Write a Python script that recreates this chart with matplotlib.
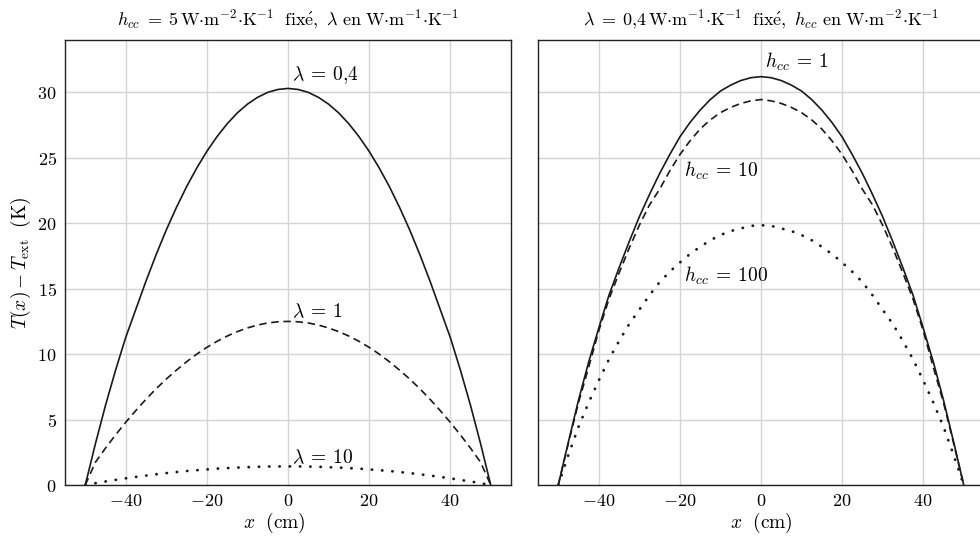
import numpy as np
import matplotlib
matplotlib.use("Agg")
import matplotlib.pyplot as plt

plt.rcParams['mathtext.fontset'] = 'cm'
plt.rcParams['font.family'] = ['cmr10', 'DejaVu Serif']
plt.rcParams['axes.formatter.use_mathtext'] = True

# demi-profils (x >= 0), les courbes sont symetriques
x_half = [0, 2.5, 5, 7.5, 10, 12.5, 15, 17.5, 20, 22.5, 25, 27.5, 30, 32.5, 35,
          37.5, 40, 42.5, 45, 47.5, 50]

# gauche : h_cc = 5, lambda variable
T_lam04 = [30.3, 30.22, 30.0, 29.62, 29.1, 28.43, 27.6, 26.62, 25.5, 24.22, 22.8,
           21.22, 19.5, 17.62, 15.6, 13.45, 11.3, 8.8, 6.1, 3.15, 0]
T_lam1 = [12.5, 12.47, 12.38, 12.22, 12.0, 11.72, 11.38, 10.98, 10.52, 10.0, 9.42,
          8.78, 8.1, 7.36, 6.56, 5.7, 4.8, 3.84, 2.82, 1.74, 0]
T_lam10 = [1.42, 1.42, 1.41, 1.39, 1.36, 1.33, 1.29, 1.25, 1.19, 1.13, 1.07,
           0.99, 0.91, 0.82, 0.72, 0.62, 0.51, 0.39, 0.27, 0.14, 0]

# droite : lambda = 0,4, h_cc variable
T_h1 = [31.2, 31.12, 30.9, 30.55, 30.1, 29.45, 28.65, 27.7, 26.6, 25.25, 23.8,
        22.2, 20.5, 18.6, 16.6, 14.5, 12.0, 9.4, 6.5, 3.3, 0]
T_h10 = [29.45, 29.35, 29.15, 28.85, 28.45, 27.9, 27.2, 26.3, 25.25, 24.0, 22.6,
         21.4, 19.85, 18.1, 16.2, 14.2, 11.8, 9.0, 6.3, 3.2, 0]
T_h100 = [19.85, 19.8, 19.6, 19.4, 19.1, 18.7, 18.2, 17.65, 17.0, 16.3, 15.5,
          14.5, 13.4, 12.3, 11.0, 9.6, 8.0, 6.3, 4.45, 2.3, 0]


def full(v):
    v = np.asarray(v, dtype=float)
    return np.concatenate([v[::-1], v[1:]])


xs = np.concatenate([-np.asarray(x_half[::-1], float), np.asarray(x_half[1:], float)])

fig = plt.figure(figsize=(9.8, 5.36), dpi=100)
ax1 = fig.add_axes([65/980, 51/536, 446/980, 445/536])
ax2 = fig.add_axes([538/980, 51/536, 446/980, 445/536], sharey=ax1)

col = '#1a1a1a'
solid = dict(color=col, lw=1.2)
dash = dict(color=col, lw=1.2, ls=(0, (4.5, 2.8)))
dots = dict(color=col, lw=2.0, ls=(0, (0.1, 3.6)), dash_capstyle='round')

ax1.plot(xs, full(T_lam04), **solid)
ax1.plot(xs, full(T_lam1), **dash)
ax1.plot(xs, full(T_lam10), **dots)
ax2.plot(xs, full(T_h1), **solid)
ax2.plot(xs, full(T_h10), **dash)
ax2.plot(xs, full(T_h100), **dots)

fs = 14
ax1.text(1, 31.3, r'$\lambda\:=\:0{,}4$', fontsize=fs, va='center')
ax1.text(1, 13.2, r'$\lambda\:=\:1$', fontsize=fs, va='center')
ax1.text(1, 2.1, r'$\lambda\:=\:10$', fontsize=fs, va='center')
ax2.text(1, 32.3, r'$h_{cc}\:=\:1$', fontsize=fs, va='center')
ax2.text(-19, 24.0, r'$h_{cc}\:=\:10$', fontsize=fs, va='center')
ax2.text(-19, 16.0, r'$h_{cc}\:=\:100$', fontsize=fs, va='center')

ax1.set_title(r'$h_{cc}\;=\;5\,\mathrm{W{\cdot}m^{-2}{\cdot}K^{-1}\ \ fix\acute{e},}\ \lambda\ \mathrm{en\ W{\cdot}m^{-1}{\cdot}K^{-1}}$',
              fontsize=13, pad=11)
ax2.set_title(r'$\lambda\;=\;0{,}4\,\mathrm{W{\cdot}m^{-1}{\cdot}K^{-1}\ \ fix\acute{e},}\ h_{cc}\ \mathrm{en\ W{\cdot}m^{-2}{\cdot}K^{-1}}$',
              fontsize=13, pad=11)

ax1.set_ylabel(r'$T(x) - T_{\mathrm{ext}}\ \ (\mathrm{K})$', fontsize=14, labelpad=3)
for ax in (ax1, ax2):
    ax.set_xlabel(r'$x\ \ (\mathrm{cm})$', fontsize=14)
    ax.set_xlim(-55, 55)
    ax.set_xticks([-40, -20, 0, 20, 40])
    ax.grid(True, color='#d4d4d4', lw=1)
    ax.set_axisbelow(True)
    ax.tick_params(length=0, labelsize=13, pad=6)
    for s in ax.spines.values():
        s.set_color('#222222')
        s.set_linewidth(1)
ax1.xaxis.set_label_coords(0.47, -0.058)
ax2.xaxis.set_label_coords(0.5, -0.058)
ax1.set_ylim(0, 34)
ax1.set_yticks([0, 5, 10, 15, 20, 25, 30])
ax2.tick_params(labelleft=False)

fig.savefig('out.png', dpi=100)
